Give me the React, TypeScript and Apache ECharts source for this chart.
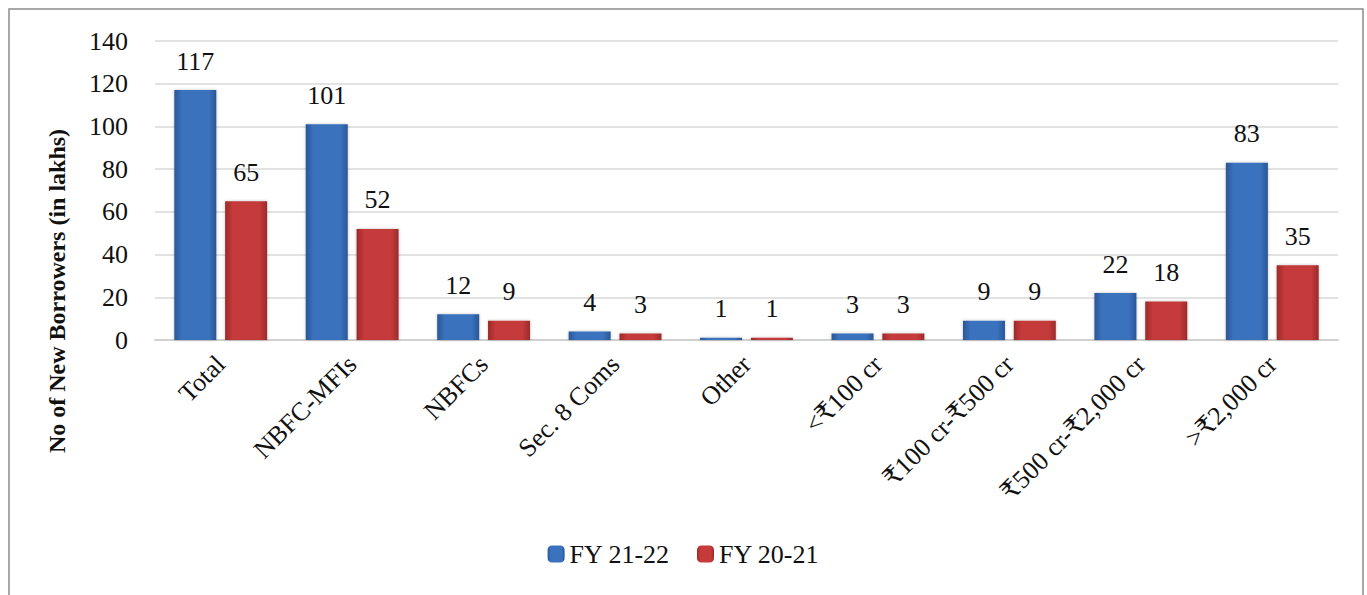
import React, { useEffect, useRef } from "react";
import * as echarts from "echarts";

const categories = [
  "Total",
  "NBFC-MFIs",
  "NBFCs",
  "Sec. 8 Coms",
  "Other",
  "<₹100 cr",
  "₹100 cr-₹500 cr",
  "₹500 cr-₹2,000 cr",
  ">₹2,000 cr",
];
const fy2122 = [117, 101, 12, 4, 1, 3, 9, 22, 83];
const fy2021 = [65, 52, 9, 3, 1, 3, 9, 18, 35];
const seriesNames = ["FY 21-22", "FY 20-21"];
const yTicks = { min: 0, max: 140, interval: 20 };
const yAxisTitle = "No of New Borrowers (in lakhs)";

const FONT = "'Liberation Serif', 'DejaVu Serif', serif";
const FS = 26;

function hGrad(edge: string, mid: string) {
  return new echarts.graphic.LinearGradient(0, 0, 1, 0, [
    { offset: 0, color: edge },
    { offset: 0.18, color: mid },
    { offset: 0.82, color: mid },
    { offset: 1, color: edge },
  ]);
}

export default function App() {
  const ref = useRef<HTMLDivElement>(null);
  useEffect(() => {
    if (!ref.current) return;
    const chart = echarts.init(ref.current, null, { renderer: "svg" });
    const label = {
      show: true,
      position: "top" as const,
      distance: 16,
      fontFamily: FONT,
      fontSize: FS,
      color: "#111",
    };
    chart.setOption({
      animation: false,
      textStyle: { fontFamily: FONT },
      graphic: [
        {
          type: "rect",
          shape: { x: 9, y: 9, width: 1354, height: 600 },
          style: { fill: "none", stroke: "#8c8c8c", lineWidth: 1.5 },
          silent: true,
        },
        {
          type: "text",
          x: 57,
          y: 291,
          rotation: Math.PI / 2,
          style: {
            text: yAxisTitle,
            fontFamily: FONT,
            fontSize: 24,
            fontWeight: "bold",
            fill: "#111",
            align: "center",
            verticalAlign: "middle",
          },
          silent: true,
        },
      ],
      grid: { left: 155, right: 29, top: 41, bottom: 255, containLabel: false },
      legend: {
        data: seriesNames,
        bottom: 23,
        left: "center",
        itemWidth: 17,
        itemHeight: 17,
        itemGap: 27,
        textStyle: { fontFamily: FONT, fontSize: FS, color: "#111" },
      },
      xAxis: {
        type: "category",
        data: categories,
        axisTick: { show: false },
        axisLine: { lineStyle: { color: "#d0d0d0", width: 2 } },
        axisLabel: {
          rotate: 45,
          interval: 0,
          margin: 20,
          fontFamily: FONT,
          fontSize: FS,
          color: "#111",
        },
      },
      yAxis: {
        type: "value",
        min: yTicks.min,
        max: yTicks.max,
        interval: yTicks.interval,
        axisLine: { show: false },
        axisTick: { show: false },
        axisLabel: { fontFamily: FONT, fontSize: FS, color: "#111", margin: 27 },
        splitLine: { lineStyle: { color: "#d9d9d9", width: 1.5 } },
      },
      series: [
        {
          name: seriesNames[0],
          type: "bar",
          data: fy2122,
          barWidth: 42,
          barGap: "21%",
          itemStyle: {
            color: hGrad("#2a5696", "#3a72bd"),
            shadowColor: "rgba(0,0,0,0.25)",
            shadowBlur: 3,
          },
          label,
        },
        {
          name: seriesNames[1],
          type: "bar",
          data: fy2021,
          barWidth: 42,
          barGap: "21%",
          itemStyle: {
            color: hGrad("#9c2a2a", "#c53a3a"),
            shadowColor: "rgba(0,0,0,0.25)",
            shadowBlur: 3,
          },
          label,
        },
      ],
    });
    return () => chart.dispose();
  }, []);
  return (
    <div
      ref={ref}
      style={{ position: "absolute", left: 0, top: 0, width: 1367, height: 595 }}
    />
  );
}
